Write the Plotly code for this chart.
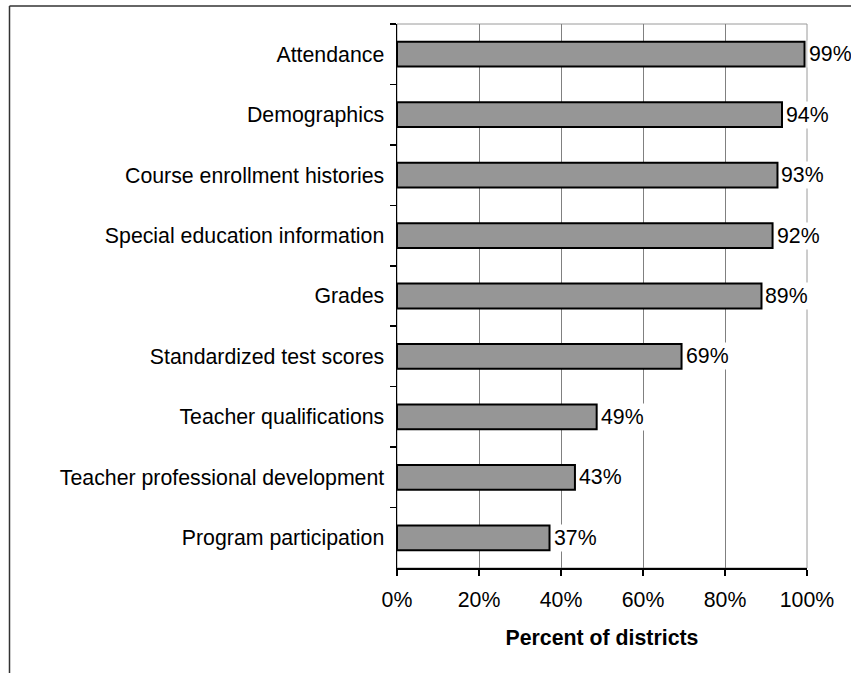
import plotly.graph_objects as go

categories = [
    "Attendance",
    "Demographics",
    "Course enrollment histories",
    "Special education information",
    "Grades",
    "Standardized test scores",
    "Teacher qualifications",
    "Teacher professional development",
    "Program participation",
]
values = [99.4, 93.9, 92.8, 91.6, 88.9, 69.4, 48.7, 43.4, 37.2]
x_ticks = [0, 20, 40, 60, 80, 100]
x_tick_labels = ["0%", "20%", "40%", "60%", "80%", "100%"]
x_title = "Percent of districts"

W, H = 851, 673
L, R, T, B = 397, 44, 24, 105
PW, PH = W - L - R, H - T - B

def px_x(p):
    return (p - L) / PW

def px_y(p):
    return (H - B - p) / PH

FONT = "Liberation Sans, Arial, sans-serif"
FS = 21.3

fig = go.Figure()
fig.add_trace(go.Bar(
    x=values,
    y=categories,
    orientation="h",
    marker=dict(color="#969696", line=dict(color="#000000", width=2)),
    width=0.41,
    hoverinfo="skip",
))

annotations = []
for c, v in zip(categories, values):
    annotations.append(dict(
        x=v, y=c, xref="x", yref="y",
        text=f"{round(v)}%",
        showarrow=False,
        xanchor="left", yanchor="middle",
        xshift=2,
        bgcolor="white",
        borderpad=1,
        font=dict(family=FONT, size=FS, color="black"),
    ))

shapes = [
    # plot area top/right border
    dict(type="rect", xref="x domain", yref="y domain", x0=0, x1=1, y0=0, y1=1,
         line=dict(color="#9a9a9a", width=1), layer="below"),
    # outer frame (top and left)
    dict(type="line", xref="paper", yref="paper",
         x0=px_x(9.5), x1=px_x(851), y0=px_y(6), y1=px_y(6),
         line=dict(color="#333333", width=1.5)),
    dict(type="line", xref="paper", yref="paper",
         x0=px_x(9.5), x1=px_x(9.5), y0=px_y(6), y1=px_y(673),
         line=dict(color="#333333", width=1.5)),
]

fig.update_layout(
    width=W, height=H,
    margin=dict(l=L, r=R, t=T, b=B, pad=0),
    paper_bgcolor="white",
    plot_bgcolor="white",
    showlegend=False,
    font=dict(family=FONT, size=FS, color="black"),
    annotations=annotations,
    shapes=shapes,
    xaxis=dict(
        range=[0, 100],
        tickmode="array",
        tickvals=x_ticks,
        ticktext=x_tick_labels,
        showgrid=True,
        gridcolor="#808080",
        gridwidth=1,
        zeroline=False,
        showline=True,
        linecolor="black",
        linewidth=1.5,
        ticks="outside",
        ticklen=6,
        tickcolor="black",
        tickwidth=1.5,
        ticklabelstandoff=6,
        tickfont=dict(family=FONT, size=FS, color="black"),
        title=dict(text=f"<b>{x_title}</b>", font=dict(family=FONT, size=FS, color="black"), standoff=19),
        fixedrange=True,
    ),
    yaxis=dict(
        autorange="reversed",
        showgrid=False,
        zeroline=False,
        showline=True,
        linecolor="black",
        linewidth=1.5,
        ticks="outside",
        tickson="boundaries",
        ticklen=6,
        tickcolor="black",
        tickwidth=1.5,
        ticklabelstandoff=7,
        tickfont=dict(family=FONT, size=FS, color="black"),
        fixedrange=True,
    ),
)

fig.write_html(
    "out.html",
    config={"displayModeBar": False, "staticPlot": True},
    post_script="document.body.style.margin='0';document.body.style.overflow='hidden';",
)
